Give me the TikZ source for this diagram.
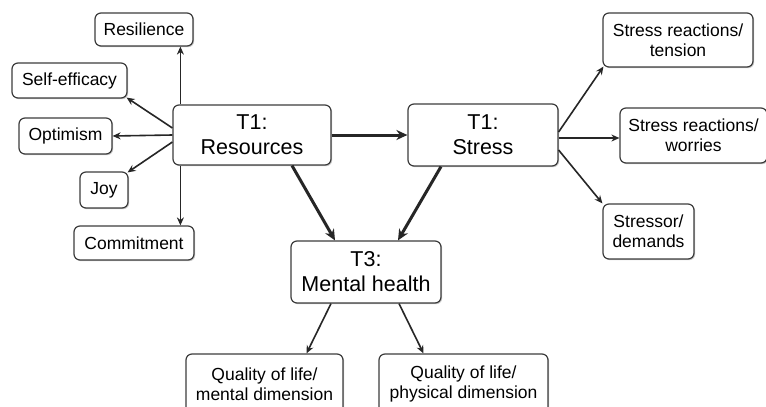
\documentclass[tikz,border=0pt]{standalone}
\usepackage{fontspec}
\setmainfont{Liberation Sans}
\usetikzlibrary{arrows.meta,shadows}
\definecolor{edge}{HTML}{3C3C3C}
\definecolor{arrowc}{HTML}{262626}
\tikzset{
  box/.style={draw=edge, line width=1.2pt, rounded corners=6pt, fill=white, align=center, inner sep=0pt,
    drop shadow={shadow xshift=1.2pt, shadow yshift=-1.2pt, fill=black!35, opacity=0.6}},
  smallbox/.style={box, font=\fontsize{17.5}{20}\selectfont},
  bigbox/.style={box, font=\fontsize{21.5}{25}\selectfont},
  arr/.style={draw=arrowc, line width=1.6pt, -{Stealth[length=8pt,width=7pt]}},
  thick arr/.style={draw=arrowc, line width=3pt, -{Stealth[length=11pt,width=10pt]}}
}
\begin{document}
\begin{tikzpicture}[x=1pt,y=-1pt]
\clip (0,0) rectangle (766,407);
\fill[white] (0,0) rectangle (766,407);
% main nodes
\node[bigbox, minimum width=158pt, minimum height=60pt] (res) at (252,135) {T1:\\Resources};
\node[bigbox, minimum width=150pt, minimum height=62pt] (str) at (483,135) {T1:\\Stress};
\node[bigbox, minimum width=150pt, minimum height=62pt] (mh) at (366,272) {T3:\\Mental health};
% resources indicators
\node[smallbox, minimum width=98pt, minimum height=33pt] (resil) at (144,29.5) {Resilience};
\node[smallbox, minimum width=115pt, minimum height=35pt] (self) at (69.5,80.5) {Self-efficacy};
\node[smallbox, minimum width=93pt, minimum height=36pt] (opt) at (65.5,136) {Optimism};
\node[smallbox, minimum width=48pt, minimum height=36pt] (joy) at (104,190) {Joy};
\node[smallbox, minimum width=120pt, minimum height=34pt] (com) at (134,243) {Commitment};
% stress indicators
\node[smallbox, minimum width=150pt, minimum height=54pt] (ten) at (678,40) {Stress reactions/\\tension};
\node[smallbox, minimum width=147pt, minimum height=55pt] (wor) at (693.5,135.5) {Stress reactions/\\worries};
\node[smallbox, minimum width=91pt, minimum height=55pt] (dem) at (648.5,231.5) {Stressor/\\demands};
% mental health indicators
\node[smallbox, minimum width=157pt, minimum height=60pt] (qm) at (264.5,384) {Quality of life/\\mental dimension};
\node[smallbox, minimum width=169pt, minimum height=60pt] (qp) at (463.5,384) {Quality of life/\\physical dimension};
% structural arrows
\draw[thick arr] (res.east) -- (str.west);
\draw[thick arr] ([xshift=40pt]res.south) -- ([xshift=-31pt]mh.north);
\draw[thick arr] ([xshift=-42pt]str.south) -- ([xshift=32pt]mh.north);
% resources arrows
\draw[arr] ([xshift=8pt]res.north west) -- ([xshift=8pt]res.north west |- resil.south);
\draw[arr] ([xshift=8pt]res.south west) -- ([xshift=8pt]res.south west |- com.north);
\draw[arr] ([yshift=7pt]res.west) -- ([xshift=-1pt,yshift=1pt]self.south east);
\draw[arr] (res.west) -- (opt.east);
\draw[arr] ([yshift=-7pt]res.west) -- ([xshift=-1pt,yshift=-1pt]joy.north east);
% stress arrows
\draw[arr] ([yshift=3pt]str.east) -- ([xshift=1pt,yshift=1pt]ten.south west);
\draw[arr] ([yshift=-3pt]str.east) -- ([yshift=-3pt]str.east -| wor.west);
\draw[arr] ([yshift=-15pt]str.east) -- (dem.north west);
% mental health arrows
\draw[arr] ([xshift=-35pt]mh.south) -- ([xshift=42pt]qm.north);
\draw[arr] ([xshift=33pt]mh.south) -- ([xshift=-40pt]qp.north);
\end{tikzpicture}
\end{document}
